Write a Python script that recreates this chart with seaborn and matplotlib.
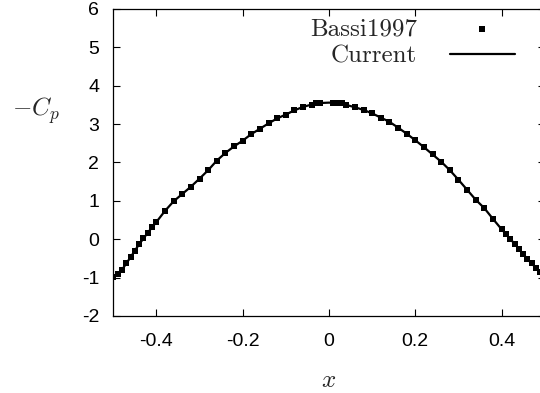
import matplotlib
matplotlib.use("Agg")
import matplotlib.pyplot as plt
import seaborn as sns
import pandas as pd

# Bassi1997 reference data (markers)
bassi_x = [-0.50, -0.49, -0.48, -0.47, -0.46, -0.45, -0.44, -0.43, -0.42, -0.41, -0.40,
           -0.38, -0.36, -0.34, -0.32, -0.30, -0.28, -0.26, -0.24, -0.22, -0.20,
           -0.18, -0.16, -0.14, -0.12, -0.10, -0.08, -0.06, -0.04, -0.03, -0.02,
           0.01, 0.02, 0.03, 0.04, 0.06, 0.08, 0.10, 0.12, 0.14, 0.16, 0.18,
           0.20, 0.22, 0.24, 0.26, 0.28, 0.30, 0.32, 0.34, 0.36, 0.38, 0.40,
           0.41, 0.42, 0.43, 0.44, 0.45, 0.46, 0.47, 0.48, 0.49, 0.50]
bassi_y = [-0.98, -0.90, -0.80, -0.63, -0.47, -0.30, -0.13, 0.02, 0.17, 0.31, 0.45,
           0.74, 0.99, 1.18, 1.37, 1.58, 1.80, 2.05, 2.25, 2.42, 2.57,
           2.74, 2.88, 3.02, 3.15, 3.25, 3.36, 3.45, 3.51, 3.54, 3.55,
           3.56, 3.55, 3.54, 3.50, 3.44, 3.37, 3.28, 3.17, 3.06, 2.91, 2.75,
           2.58, 2.40, 2.21, 2.02, 1.80, 1.55, 1.29, 1.03, 0.81, 0.53, 0.26,
           0.13, 0.01, -0.12, -0.25, -0.38, -0.52, -0.63, -0.75, -0.86, -0.97]

# Current computation (line)
current_x = [-0.50, -0.48, -0.46, -0.44, -0.42, -0.40, -0.38, -0.36, -0.34, -0.32,
             -0.30, -0.28, -0.26, -0.24, -0.22, -0.20, -0.18, -0.16, -0.14, -0.12,
             -0.10, -0.08, -0.06, -0.04, -0.02, 0.00, 0.02, 0.04, 0.06, 0.08,
             0.10, 0.12, 0.14, 0.16, 0.18, 0.20, 0.22, 0.24, 0.26, 0.28,
             0.30, 0.32, 0.34, 0.36, 0.38, 0.40, 0.42, 0.44, 0.46, 0.48, 0.50]
current_y = [-0.98, -0.80, -0.47, -0.13, 0.17, 0.45, 0.74, 0.99, 1.18, 1.37,
             1.58, 1.80, 2.05, 2.25, 2.42, 2.57, 2.74, 2.88, 3.02, 3.15,
             3.25, 3.36, 3.45, 3.51, 3.55, 3.56, 3.55, 3.50, 3.44, 3.37,
             3.28, 3.17, 3.06, 2.91, 2.75, 2.58, 2.40, 2.21, 2.02, 1.80,
             1.55, 1.29, 1.03, 0.81, 0.53, 0.26, 0.01, -0.25, -0.52, -0.75, -0.97]

x_ticks = [-0.4, -0.2, 0, 0.2, 0.4]
x_ticklabels = ["-0.4", "-0.2", "0", "0.2", "0.4"]
y_ticks = [-2, -1, 0, 1, 2, 3, 4, 5, 6]
y_ticklabels = ["-2", "-1", "0", "1", "2", "3", "4", "5", "6"]

sns.set_style("ticks")
plt.rcParams["font.family"] = ["Liberation Sans", "DejaVu Sans"]
plt.rcParams["mathtext.fontset"] = "cm"
plt.rcParams["axes.unicode_minus"] = False

fig = plt.figure(figsize=(5.4, 3.93), dpi=100)
W, H = 540, 393
left, right, top, bottom = 113.25, 544.75, 9, 316
ax = fig.add_axes([left / W, 1 - bottom / H, (right - left) / W, (bottom - top) / H])

df_b = pd.DataFrame({"x": bassi_x, "y": bassi_y})
df_c = pd.DataFrame({"x": current_x, "y": current_y})

sns.lineplot(data=df_c, x="x", y="y", ax=ax, color="black", lw=1.6,
             label="Current", sort=True, estimator=None)
sns.scatterplot(data=df_b, x="x", y="y", ax=ax, color="black", marker="s",
                s=22, linewidth=0, label="Bassi1997", zorder=3)

ax.set_xlim(-0.5, 0.5)
ax.set_ylim(-2, 6)
ax.set_xticks(x_ticks)
ax.set_xticklabels(x_ticklabels)
ax.set_yticks(y_ticks)
ax.set_yticklabels(y_ticklabels)
ax.tick_params(direction="in", length=5, width=0.8, top=True, right=True,
               labelsize=14, colors="black")
ax.tick_params(axis="y", pad=10)
ax.tick_params(axis="x", pad=12)
for s in ax.spines.values():
    s.set_linewidth(0.9)
    s.set_color("black")

ax.set_xlabel("$x$", fontsize=18)
ax.set_ylabel("$-C_p$", fontsize=18, rotation=0)
ax.xaxis.set_label_coords(0.5, -0.17)
ax.yaxis.set_label_coords(-0.18, 0.62)

handles, labels = ax.get_legend_handles_labels()
order = [labels.index("Bassi1997"), labels.index("Current")]
leg = ax.legend([handles[i] for i in order], [labels[i] for i in order],
                frameon=False, markerfirst=False, loc="upper right",
                bbox_to_anchor=(527 / W, 1 - 6 / H), bbox_transform=fig.transFigure,
                prop={"family": "cmr10", "size": 18}, borderpad=0,
                labelspacing=0.15, handlelength=2.6, handletextpad=1.3,
                markerscale=1.0)

fig.savefig("out.png", dpi=100)
